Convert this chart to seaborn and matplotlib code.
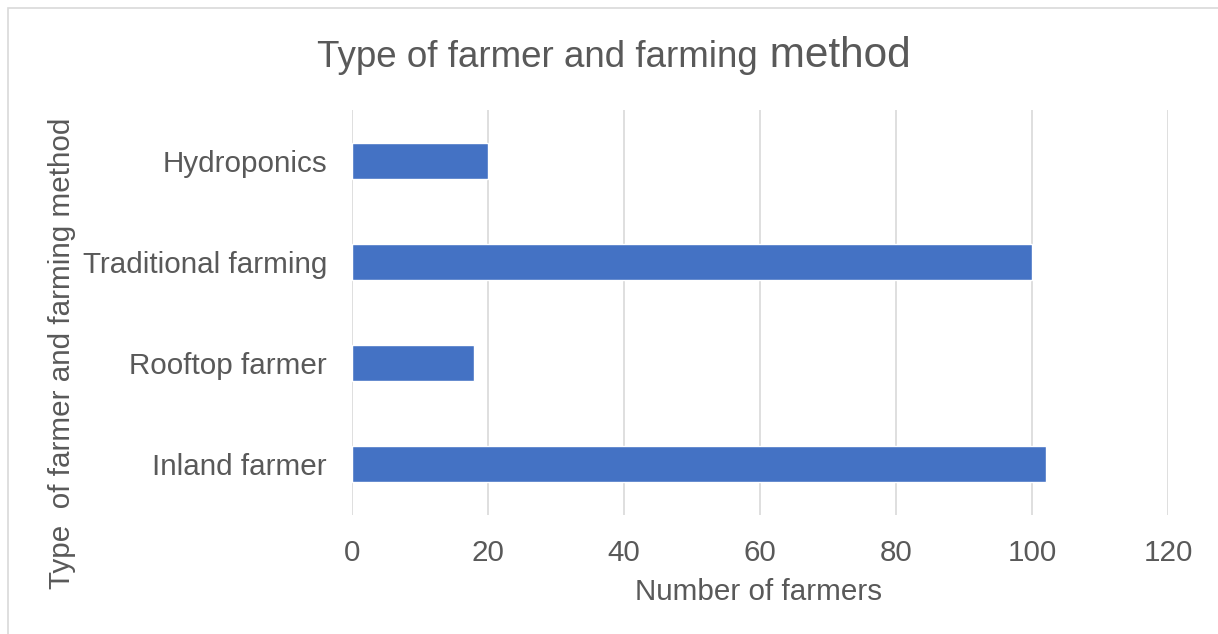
import matplotlib
matplotlib.use("Agg")
import matplotlib.pyplot as plt
import matplotlib.patches as mpatches
import pandas as pd
import seaborn as sns

# data (top to bottom as shown in the chart)
categories = ["Hydroponics", "Traditional farming", "Rooftop farmer", "Inland farmer"]
farmers = [20, 100, 18, 102]
x_ticks = [0, 20, 40, 60, 80, 100, 120]

W, H = 1218, 634
TEXT = "#595959"
GRID = "#D9D9D9"
BAR = "#4472C4"

sns.set_theme(style="white")
plt.rcParams["font.family"] = ["Liberation Sans", "DejaVu Sans"]

df = pd.DataFrame({"method": categories, "farmers": farmers})

fig = plt.figure(figsize=(W / 100, H / 100), dpi=100)
ax = fig.add_axes([352 / W, 1 - 515 / H, (1168 - 352) / W, (515 - 110) / H])

sns.barplot(data=df, x="farmers", y="method", orient="h", color=BAR,
            saturation=1, width=0.355, ax=ax, zorder=3)

ax.set_xlim(0, 120)
ax.set_xticks(x_ticks)
ax.set_xticklabels([str(v) for v in x_ticks])
ax.grid(axis="x", color=GRID, linewidth=1.2, zorder=0)
ax.grid(axis="y", visible=False)
for side in ["top", "right", "bottom", "left"]:
    ax.spines[side].set_visible(False)
ax.tick_params(axis="both", length=0, labelsize=21.3, labelcolor=TEXT)
ax.tick_params(axis="x", pad=17)
ax.tick_params(axis="y", pad=18)
ax.set_xlabel("")
ax.set_ylabel("")

# axis titles
fig.text(759 / W, 1 - 592 / H, "Number of farmers", ha="center", va="center",
         fontsize=21.3, color=TEXT)
fig.text(62 / W, 1 - 353 / H, "Type  of farmer and farming method", ha="center",
         va="center", rotation=90, fontsize=21.3, color=TEXT)

# chart title: last word is set larger
t1 = fig.text(317 / W, 1 - 67 / H, "Type of farmer and farming", ha="left",
              va="baseline", fontsize=26.5, color=TEXT)
fig.canvas.draw()
bb = t1.get_window_extent()
fig.text(bb.x1 / W, 1 - 67 / H, " method", ha="left", va="baseline",
         fontsize=30.5, color=TEXT)

# chart area border (cut off at right and bottom)
fig.add_artist(mpatches.Rectangle((7.5 / W, -0.1), 1.2, 1 - 8 / H + 0.1,
                                  transform=fig.transFigure, fill=False,
                                  edgecolor=GRID, linewidth=1.2))

fig.savefig("out.png", dpi=100)
